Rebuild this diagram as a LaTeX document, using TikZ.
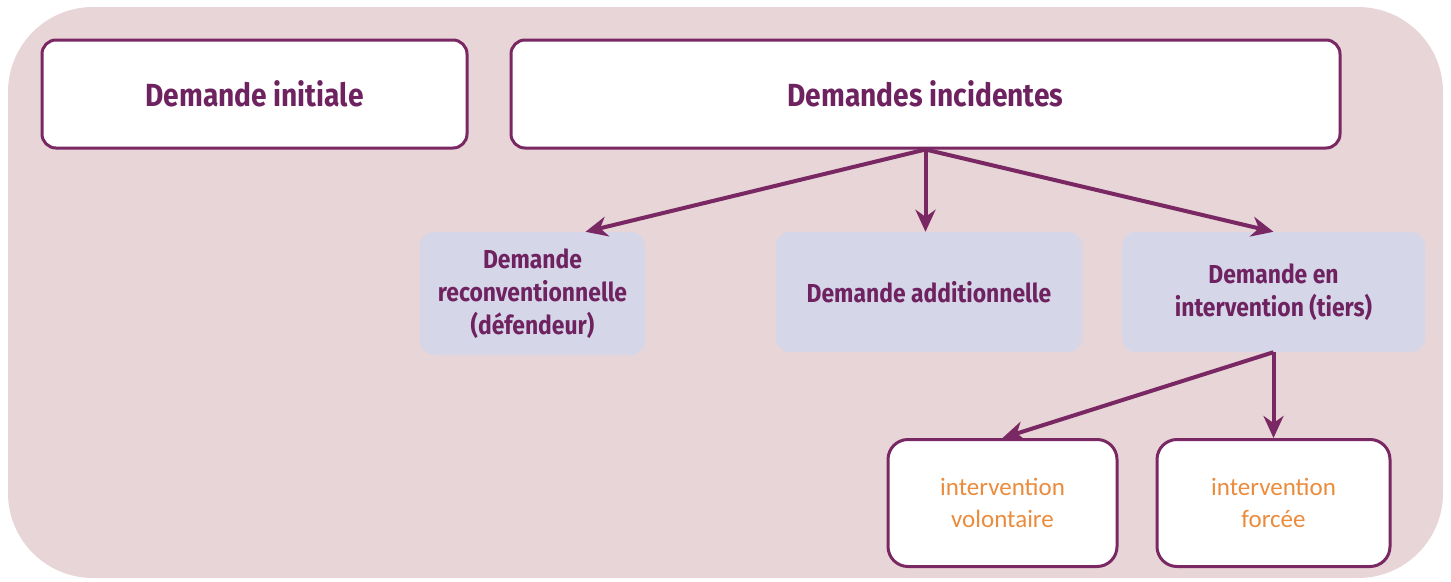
\documentclass[tikz,border=0pt]{standalone}
\usepackage{fontspec}
\setmainfont{Fira Sans}[FakeStretch=0.88]
\newfontfamily\orfont{Carlito}
\usetikzlibrary{arrows.meta}
\definecolor{bgpink}{HTML}{E8D5D7}
\definecolor{boxblue}{HTML}{D5D6E8}
\definecolor{plum}{HTML}{7A2864}
\definecolor{plumtext}{HTML}{6F2260}
\definecolor{orangetext}{HTML}{EB8C3C}

\begin{document}
\begin{tikzpicture}[x=1pt,y=-1pt,
    >={Stealth[length=22pt,width=20pt,inset=7pt]},
    bigbox/.style = {
      draw = plum,
      line width = 3pt,
      fill = white,
      rounded corners = 14pt,
      text = plumtext,
      font = \fontsize{32}{38}\selectfont\bfseries
    },
    bluebox/.style = {
      fill = boxblue,
      rounded corners = 14pt,
      align = center,
      text = plumtext,
      font = \fontsize{26}{33}\selectfont\bfseries
    },
    leafbox/.style = {
      draw = plum,
      line width = 3pt,
      fill = white,
      rounded corners = 20pt,
      align = center,
      text = orangetext,
      font = \orfont\fontsize{25}{32}\selectfont
    },
    link/.style = {
      ->,
      draw = plum,
      line width = 4pt
    }
  ]
  \useasboundingbox (0,0) rectangle (1451,581);
  \fill[bgpink, rounded corners=85pt] (8,7) rectangle (1443,578);

  \node[bigbox, minimum width=425pt, minimum height=108pt] (init) at (254.5,94) {Demande initiale};
  \node[bigbox, minimum width=829pt, minimum height=108pt] (inc) at (925.5,94) {Demandes incidentes};

  \node[bluebox, minimum width=225pt, minimum height=123pt] (reconv) at (532.5,293.5) {Demande\\reconventionnelle\\(défendeur)};
  \node[bluebox, minimum width=306pt, minimum height=120pt] (add) at (929,292) {Demande additionnelle};
  \node[bluebox, minimum width=303pt, minimum height=120pt] (tiers) at (1273.5,292) {Demande en\\intervention (tiers)};

  \node[leafbox, minimum width=229pt, minimum height=127pt] (vol) at (1002.5,503) {intervention\\volontaire};
  \node[leafbox, minimum width=233pt, minimum height=127pt] (forc) at (1273.5,503) {intervention\\forcée};

  \draw[link] (inc.south) -- ([xshift=53pt]reconv.north);
  \draw[link] (inc.south) -- (inc.south |- add.north);
  \draw[link] (inc.south) -- (tiers.north);
  \draw[link] (tiers.south) -- (vol.north);
  \draw[link] (tiers.south) -- (forc.north);
\end{tikzpicture}
\end{document}
